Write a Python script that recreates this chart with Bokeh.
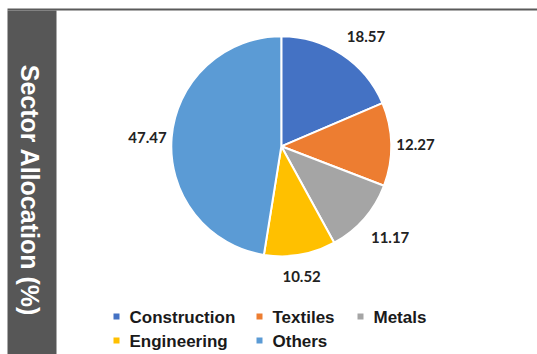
import math
from bokeh.plotting import figure
from bokeh.models import ColumnDataSource, Range1d
from bokeh.core.properties import value
from bokeh.embed import file_html
from bokeh.resources import INLINE

# ---- data ----
categories = ["Construction", "Textiles", "Metals", "Engineering", "Others"]
values = [18.57, 12.27, 11.17, 10.52, 47.47]
colors = ["#4472C4", "#ED7D31", "#A5A5A5", "#FFC000", "#5B9BD5"]
title = "Sector Allocation (%)"

# ---- layout constants (pixels) ----
W, H = 537, 354
CX, CY, R = 280.8, 208.2, 110
LABEL_R = 119

p = figure(width=W, height=H, x_range=Range1d(0, W), y_range=Range1d(0, H),
           output_backend="svg", toolbar_location=None, min_border=0,
           x_axis_location=None, y_axis_location=None)
p.grid.visible = False
p.outline_line_color = None
p.background_fill_color = "white"
p.border_fill_color = "white"

# left band and top rule
p.quad(left=[7], right=[56], bottom=[-10], top=[344], fill_color="#575757", line_color=None)
p.segment(x0=[7], y0=[345], x1=[W + 5], y1=[345], line_color="#5a5a5a", line_width=2)
p.text(x=[29], y=[164], text=[title], angle=-math.pi / 2, text_align="center",
       text_baseline="middle", text_color="white", text_font=value("Liberation Sans"),
       text_font_style="bold", text_font_size="25px")

# pie
total = sum(values)
starts, ends, mids = [], [], []
cum = 0.0
for v in values:
    a0 = cum / total
    cum += v
    a1 = cum / total
    starts.append(math.pi / 2 - 2 * math.pi * a0)
    ends.append(math.pi / 2 - 2 * math.pi * a1)
    mids.append(2 * math.pi * (a0 + a1) / 2)

src = ColumnDataSource(dict(cat=categories, val=values, color=colors,
                            start=starts, end=ends))
p.wedge(x=CX, y=CY, radius=R, start_angle="start", end_angle="end",
        direction="clock", fill_color="color", line_color="white",
        line_width=2, source=src)

# outside-end data labels (anchored by quadrant, with label-box padding)
lx, ly, la, lb = [], [], [], []
for m in mids:
    s, c = math.sin(m), math.cos(m)
    a = "left" if s > 0.3 else ("right" if s < -0.3 else "center")
    b = "bottom" if c > 0.3 else ("top" if c < -0.3 else "middle")
    d = LABEL_R - 4 if b == "middle" else LABEL_R
    pad = 4.5 if b == "bottom" else (-7 if b == "top" else 0)
    lx.append(CX + d * s)
    ly.append(CY + d * c + pad)
    la.append(a)
    lb.append(b)
lsrc = ColumnDataSource(dict(x=lx, y=ly, t=[f"{v:.2f}" for v in values], a=la, b=lb))
p.text(x="x", y="y", text="t", text_align="a", text_baseline="b", source=lsrc,
       text_color="#222222", text_font=value("Lato"), text_font_style="bold",
       text_font_size="15px")

# legend
col_x = [116, 259, 360]
row_y = [37, 13]
slots = [(0, 0), (0, 1), (0, 2), (1, 0), (1, 1)]
sx, sy, tx, ty = [], [], [], []
for (r, c) in slots:
    sx.append(col_x[c])
    sy.append(row_y[r] + 1)
    tx.append(col_x[c] + 13)
    ty.append(row_y[r])
p.scatter(x=sx, y=sy, marker="square", size=6, fill_color=colors, line_color=None)
p.text(x=tx, y=ty, text=categories, text_align="left", text_baseline="middle",
       text_color="#1a1a1a", text_font=value("Liberation Sans"), text_font_style="bold",
       text_font_size="17px")

open("out.html", "w").write(file_html(p, INLINE))
